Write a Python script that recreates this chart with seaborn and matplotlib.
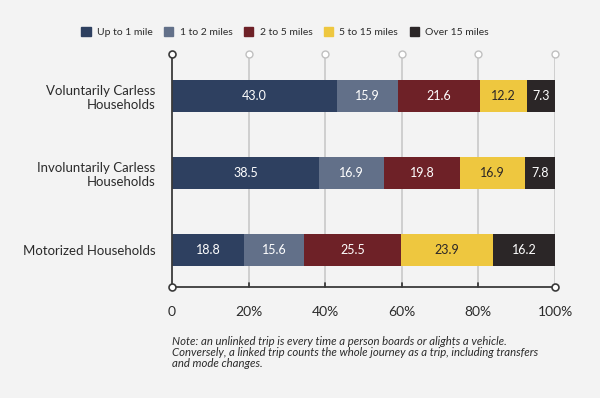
import matplotlib
matplotlib.use("Agg")
import matplotlib.pyplot as plt
import seaborn as sns
import pandas as pd
import numpy as np

# data
groups = ["Voluntarily Carless\nHouseholds", "Involuntarily Carless\nHouseholds", "Motorized Households"]
bands = ["Up to 1 mile", "1 to 2 miles", "2 to 5 miles", "5 to 15 miles", "Over 15 miles"]
up_to_1 = [43.0, 38.5, 18.8]
one_to_2 = [15.9, 16.9, 15.6]
two_to_5 = [21.6, 19.8, 25.5]
five_to_15 = [12.2, 16.9, 23.9]
over_15 = [7.3, 7.8, 16.2]
xticks = [0, 20, 40, 60, 80, 100]
xtick_labels = ["0", "20%", "40%", "60%", "80%", "100%"]

colors = ["#2e4060", "#627089", "#6e2127", "#eec73f", "#2b2627"]
text_colors = ["white", "white", "white", "#2b2627", "white"]
bg = "#f3f3f3"

sns.set_style("white")
plt.rcParams["font.family"] = ["Lato", "DejaVu Sans"]

df = pd.DataFrame({"group": groups, bands[0]: up_to_1, bands[1]: one_to_2,
                   bands[2]: two_to_5, bands[3]: five_to_15, bands[4]: over_15})
cum = df[bands].cumsum(axis=1)

fig = plt.figure(figsize=(6, 3.98), dpi=100, facecolor=bg)
ax = fig.add_axes([172 / 600, 1 - 287 / 398, (555 - 172) / 600, (287 - 54) / 398])
ax.set_facecolor(bg)

# grid lines behind bars
for x in xticks[1:]:
    ax.axvline(x, color="#c8c8c8", lw=1.2, zorder=0)
    ax.plot(x, -0.545, "o", ms=5, mfc="white", mec="#c0c0c0", mew=1, zorder=5, clip_on=False)
    if x < 100:
        ax.plot([x, x], [2.48, 2.43], color="#3a3a3a", lw=1.3, zorder=4, clip_on=False)

# stacked bars: draw cumulative totals from the outermost segment in
for i in range(len(bands) - 1, -1, -1):
    sns.barplot(x=cum[bands[i]], y=df["group"], color=colors[i], orient="h",
                width=0.41, ax=ax, zorder=2, saturation=1, edgecolor="none")

for i, b in enumerate(bands):
    for j in range(len(groups)):
        left = cum[b][j] - df[b][j]
        ax.text(left + df[b][j] / 2, j, f"{df[b][j]:.1f}", ha="center", va="center",
                color=text_colors[i], fontsize=9, zorder=6)

ax.set_xlim(0, 100)
ax.set_ylim(2.48, -0.545)
for s in ax.spines.values():
    s.set_visible(False)
ax.plot([0, 0], [2.48, -0.545], color="#3a3a3a", lw=1.3, zorder=4, clip_on=False)
ax.plot([0, 100], [2.48, 2.48], color="#3a3a3a", lw=1.3, zorder=4, clip_on=False)
ax.plot(0, -0.545, "o", ms=5, mfc="white", mec="#3a3a3a", mew=1.2, zorder=6, clip_on=False)
ax.plot(0, 2.48, "o", ms=5, mfc="white", mec="#3a3a3a", mew=1.2, zorder=6, clip_on=False)
ax.plot(100, 2.48, "o", ms=5, mfc="white", mec="#3a3a3a", mew=1.2, zorder=6, clip_on=False)

ax.set_xticks(xticks)
ax.set_xticklabels(xtick_labels, fontsize=10, color="#2b2b2b")
ax.tick_params(axis="x", length=0, pad=14)
ax.tick_params(axis="y", length=0, pad=12)
for lbl in ax.get_yticklabels():
    lbl.set_fontsize(9.5)
    lbl.set_color("#2b2b2b")
    lbl.set_horizontalalignment("right")
ax.set_xlabel("")
ax.set_ylabel("")

handles = [plt.Rectangle((0, 0), 1, 1, color=c) for c in colors]
fig.legend(handles, bands, loc="center", bbox_to_anchor=(285 / 600, 1 - 32 / 398), ncol=5,
           frameon=False, fontsize=7.5, handlelength=0.9, handleheight=0.9,
           handletextpad=0.6, columnspacing=1.1, labelcolor="#2b2b2b")

fig.text(172 / 600, 1 - 336 / 398,
         "Note: an unlinked trip is every time a person boards or alights a vehicle.\n"
         "Conversely, a linked trip counts the whole journey as a trip, including transfers\n"
         "and mode changes.",
         ha="left", va="top", fontsize=8.2, style="italic", color="#2b2b2b", linespacing=1.0)

fig.savefig("out.png", dpi=100, facecolor=bg)
